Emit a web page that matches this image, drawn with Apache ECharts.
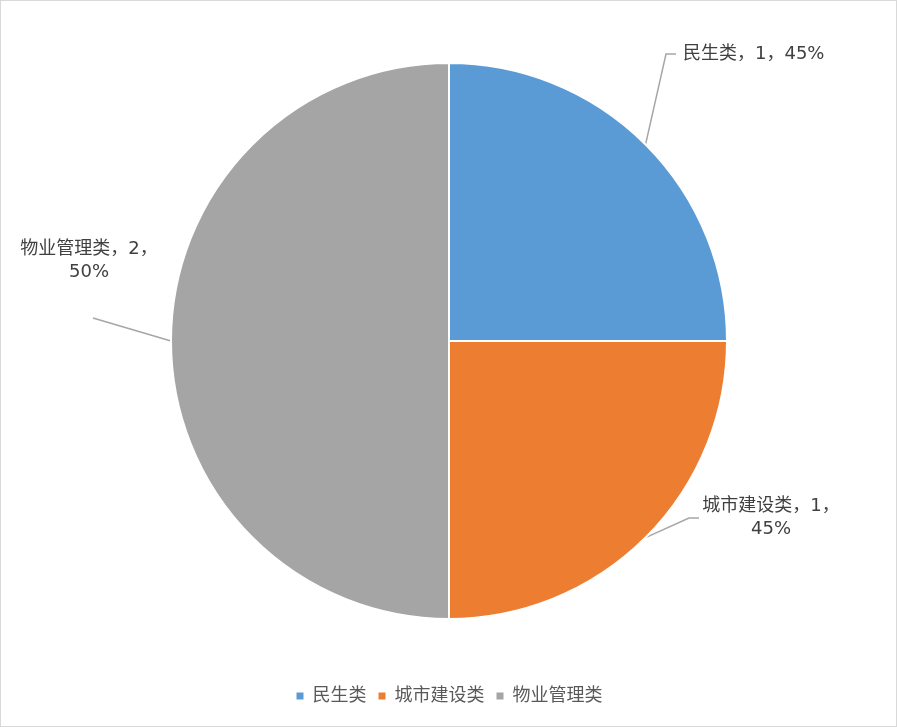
<!DOCTYPE html>
<html>
<head>
<meta charset="utf-8">
<script src="https://cdn.jsdelivr.net/npm/echarts@6/dist/echarts.min.js"></script>
<style>
html,body{margin:0;padding:0;background:#fff;}
#chart{position:absolute;left:0;top:0;width:895px;height:725px;border:1px solid #d9d9d9;}
</style>
</head>
<body>
<div id="chart"></div>
<script>
var categories = ['民生类', '城市建设类', '物业管理类'];
var values = [1, 1, 2];
var pctLabels = ['45%', '45%', '50%'];
var colors = ['#5b9bd5', '#ed7d31', '#a5a5a5'];

// 标签位置（相对画布）与引导线折点偏移
var labelPos = [
	{x: 682, y: 53, align: 'left', bend: [-17, 0], end: [-7, 0]},
	{x: 770, y: 517, align: 'center', bend: [-82, 0], end: [-72, 0]},
	{x: 88, y: 260, align: 'center', bend: [4, 57], end: [4, 57]}
];

var pieData = [];
for (var i = 0; i < categories.length; i++) {
	pieData.push({name: categories[i], value: values[i], itemStyle: {color: colors[i]}});
}

var fontFam = 'DejaVu Sans, Noto Sans CJK SC, sans-serif';
var myChart = echarts.init(document.getElementById('chart'));
var option = {
	animation: false,
	legend: {
		bottom: 16,
		left: 'center',
		itemWidth: 9,
		itemHeight: 9,
		itemGap: 10,
		icon: 'rect',
		textStyle: {color: '#595959', fontSize: 18, fontFamily: fontFam, padding: [0, 0, 0, 3]},
		data: categories
	},
	series: [{
		type: 'pie',
		center: [448, 340],
		radius: 278,
		startAngle: 90,
		clockwise: true,
		itemStyle: {borderColor: '#fff', borderWidth: 2},
		label: {
			show: true,
			color: '#404040',
			fontSize: 18,
			lineHeight: 23,
			fontFamily: fontFam,
			overflow: 'none',
			formatter: function (p) {
				var sep = p.dataIndex === 0 ? '' : '\n';
				return p.name + '，' + values[p.dataIndex] + '，' + sep + pctLabels[p.dataIndex];
			}
		},
		labelLine: {
			show: true,
			length: 20,
			length2: 10,
			lineStyle: {color: '#a6a6a6', width: 1.5}
		},
		labelLayout: function (params) {
			var lp = labelPos[params.dataIndex];
			var start = params.labelLinePoints ? params.labelLinePoints[0] : null;
			var res = {x: lp.x, y: lp.y, align: lp.align, verticalAlign: 'middle'};
			if (start) {
				res.labelLinePoints = [
					start,
					[lp.x + lp.bend[0], lp.y + lp.bend[1]],
					[lp.x + lp.end[0], lp.y + lp.end[1]]
				];
			}
			return res;
		},
		emphasis: {disabled: true},
		data: pieData
	}]
};
myChart.setOption(option);
</script>
</body>
</html>
